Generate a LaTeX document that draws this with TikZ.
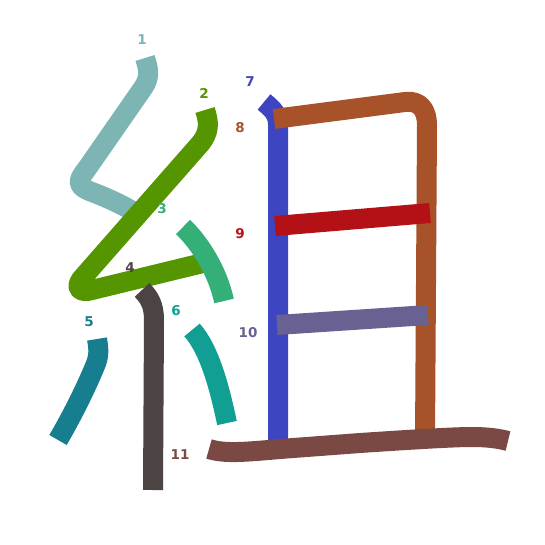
\documentclass[tikz,border=0pt]{standalone}
\usepackage{fontspec}
\setmainfont{DejaVu Sans}
\definecolor{cA}{HTML}{7DB5B5}
\definecolor{cB}{HTML}{559500}
\definecolor{cC}{HTML}{33AF77}
\definecolor{cD}{HTML}{4B4442}
\definecolor{cE}{HTML}{177E90}
\definecolor{cF}{HTML}{119E93}
\definecolor{cG}{HTML}{3E45C0}
\definecolor{cH}{HTML}{A8522A}
\definecolor{cI}{HTML}{B41116}
\definecolor{cJ}{HTML}{686192}
\definecolor{cK}{HTML}{7A4943}
\tikzset{
  stroke/.style={line width=20pt, line cap=butt, line join=round},
  num/.style={font=\fontsize{13.5}{16}\selectfont\bfseries, inner sep=0pt}
}
\begin{document}
\begin{tikzpicture}[x=1pt,y=-1pt]
\useasboundingbox (0,0) rectangle (545,545);
% stroke 1
\draw[stroke,cA] (145,58) .. controls (149,70) and (150,78) .. (143,88) -- (86,170) .. controls (76,182) and (78,187) .. (92,192) .. controls (110,199) and (125,206) .. (137,214);
% stroke 2
\draw[stroke,cB] (205,110) .. controls (209,122) and (210,132) .. (200,144) -- (84,276) .. controls (74,286) and (78,294) .. (92,290) -- (203,263);
% stroke 3
\draw[stroke,cC] (183,227) .. controls (200,243) and (218,272) .. (224,301);
% stroke 4
\draw[stroke,cD] (142,290) .. controls (150,298) and (154,306) .. (154,320) -- (153,490);
% stroke 5
\draw[stroke,cE] (97,339) .. controls (99,350) and (99,357) .. (95,366) .. controls (85,390) and (72,416) .. (58,440);
% stroke 6
\draw[stroke,cF] (192,330) .. controls (210,350) and (220,390) .. (227,423);
% stroke 7
\draw[stroke,cG] (264,102) .. controls (274,110) and (278,115) .. (278,125) -- (278,440);
% stroke 8
\draw[stroke,cH] (274,119) -- (405,102) .. controls (420,100) and (427,110) .. (427,125) -- (425,440);
% stroke 9
\draw[stroke,cI] (275,226) -- (430,213);
% stroke 10
\draw[stroke,cJ] (277,325) -- (428,315);
% stroke 11
\draw[stroke,cK] (209,449) .. controls (225,454) and (245,452) .. (280,449) -- (360,443) .. controls (420,439) and (455,437) .. (472,437) .. controls (490,437) and (500,439) .. (508,441);
% labels
\node[num,cA] (n1) at (142,40) {1};
\node[num,cB] (n2) at (204,93) {2};
\node[num,cC] (n3) at (162,209) {3};
\node[num,cD] (n4) at (130,268) {4};
\node[num,cE] (n5) at (89,322) {5};
\node[num,cF] (n6) at (176,311) {6};
\node[num,cG] (n7) at (250,82) {7};
\node[num,cH] (n8) at (240,128) {8};
\node[num,cI] (n9) at (240,234) {9};
\node[num,cJ] (n10) at (248,333) {10};
\node[num,cK] (n11) at (180,455) {11};
\end{tikzpicture}
\end{document}
